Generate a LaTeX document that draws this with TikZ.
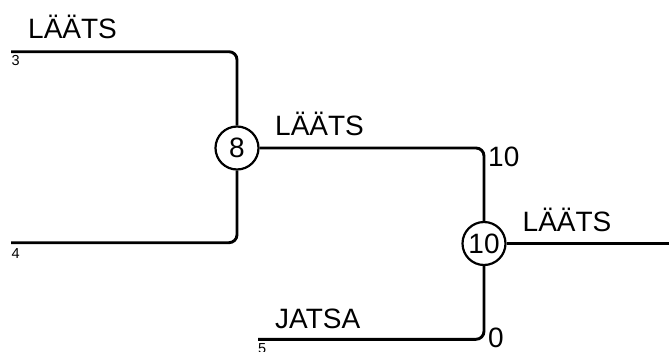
\documentclass[tikz,border=0pt]{standalone}
\usepackage{fontspec}
\setmainfont{Liberation Sans}
\tikzset{
    bracket/.style={line width=2.9pt, rounded corners=8pt},
    match/.style={circle, draw, line width=2.2pt, minimum size=43pt, inner sep=0pt,
        font=\fontsize{28}{30}\selectfont},
    team/.style={anchor=base west, inner sep=0pt, font=\fontsize{28}{30}\selectfont},
    seed/.style={anchor=base west, inner sep=0pt, font=\fontsize{14.5}{16}\selectfont},
}
\begin{document}
\begin{tikzpicture}[x=1pt, y=-1pt]
    \useasboundingbox (0,0) rectangle (669,351);

    % matches
    \node[match] (m8) at (237,148) {8};
    \node[match] (m10) at (484,243.5) {10};

    % free ends
    \coordinate (p3) at (11,51.7);
    \coordinate (p4) at (11,242.7);
    \coordinate (p5) at (258,339.3);
    \coordinate (win) at (669,243.5);

    \draw[bracket] (p3) -| (m8);
    \draw[bracket] (p4) -| (m8);
    \draw[bracket] (m8) -| (m10);
    \draw[bracket] (p5) -| (m10);
    \draw[bracket] (m10) -- (win);

    % names and scores
    \node[team] (t3) at (28,38.3) {LÄÄTS};
    \node[seed] (s3) at (11.5,65) {3};
    \node[seed] (s4) at (11.5,258.3) {4};
    \node[team] (t8) at (275,135) {LÄÄTS};
    \node[team] (r8) at (488,166.5) {10};
    \node[team] (t10) at (522.5,231.7) {LÄÄTS};
    \node[team] (t5) at (275,328.3) {JATSA};
    \node[team] (r5) at (488,347.3) {0};
    \node[seed] (s5) at (258,353) {5};
\end{tikzpicture}
\end{document}
